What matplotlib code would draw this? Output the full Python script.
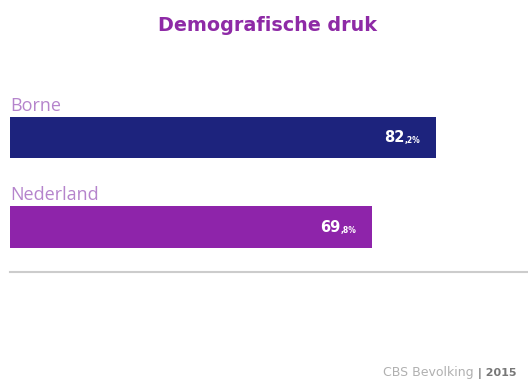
import matplotlib
matplotlib.use('Agg')
import matplotlib.pyplot as plt

# Data #
categories = ['Borne', 'Nederland']
values = [82.2, 69.8]
value_main = ['82', '69']
value_small = [',2%', ',8%']
bar_colors = ['#1d237d', '#8e24aa']

title = 'Demografische druk'
source = 'CBS Bevolking'
year = '| 2015'

# Figure #
fig = plt.figure(figsize=(5.28, 3.83), dpi=100)
ax = fig.add_axes([10/528, 111/383, 518/528, 182/383])

ypos = list(range(len(categories)))
ax.barh(ypos, values, height=0.46, color=bar_colors, align='center')
ax.set_xlim(0, 100)
ax.set_ylim(1.503, -0.53)

# Category labels above bars #
for y, name in zip(ypos, categories):
    ax.annotate(name, xy=(0, y - 0.23), xytext=(0, 1.5), textcoords='offset points',
                ha='left', va='bottom', fontsize=13, color='#b584cc',
                family=['Open Sans', 'DejaVu Sans'])

# Value labels inside bars #
for y, v, big, small in zip(ypos, values, value_main, value_small):
    s = ax.annotate(small, xy=(v, y), xytext=(-11, -4), textcoords='offset points',
                    ha='right', va='baseline', fontsize=5.5, color='white', fontweight='bold')
    ax.annotate(big, xy=(0, 0), xycoords=s, ha='right', va='bottom',
                fontsize=10.5, color='white', fontweight='bold')

# Axes styling #
for side in ['top', 'right', 'left']:
    ax.spines[side].set_visible(False)
ax.spines['bottom'].set_color('#cccccc')
ax.spines['bottom'].set_linewidth(1.5)
ax.set_xticks([])
ax.set_yticks([])

# Title and footer #
fig.text(268/528, 1 - 31/383, title, ha='center', va='baseline', fontsize=13.8,
         fontweight='bold', color='#8e2aa6')
src = fig.text(383/528, 1 - 376/383, source, ha='left', va='baseline',
               fontsize=9, color='#b0b0b0')
ax.annotate(' ' + year, xy=(1, 0), xycoords=src, ha='left', va='bottom',
            fontsize=8, color='#777777', fontweight='bold', annotation_clip=False)

fig.savefig('out.png', dpi=100)
